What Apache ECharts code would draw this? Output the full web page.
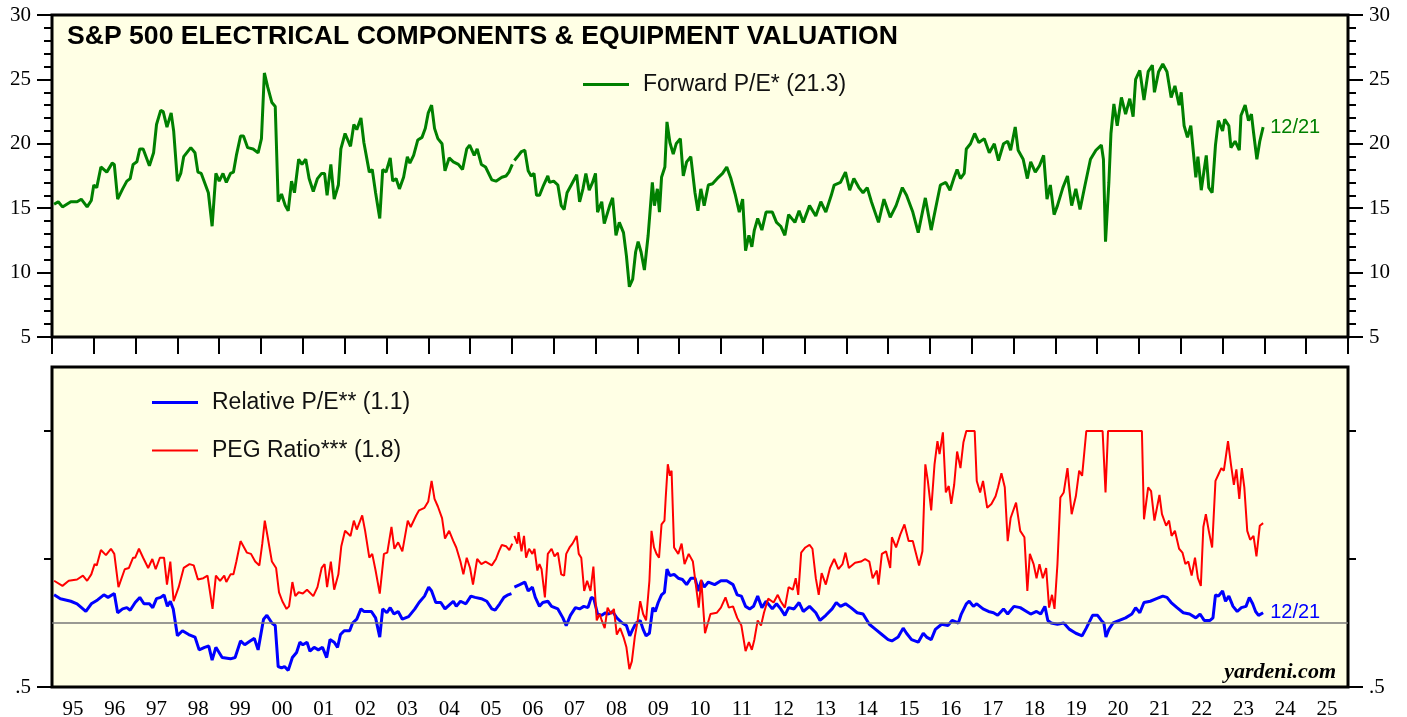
<!DOCTYPE html>
<html>
<head>
<meta charset="utf-8">
<script src="https://cdn.jsdelivr.net/npm/echarts@6/dist/echarts.min.js"></script>
<style>
html, body { margin: 0; padding: 0; background: #fff; }
#chart { width: 1407px; height: 717px; }
</style>
</head>
<body>
<div id="chart"></div>
<script>
// year tick labels (one band per year, 1995..2025)
var yearLabels = ['95', '96', '97', '98', '99', '00', '01', '02', '03', '04', '05', '06', '07', '08', '09', '10',
    '11', '12', '13', '14', '15', '16', '17', '18', '19', '20', '21', '22', '23', '24', '25'];

// forward P/E, [decimal year, value]
var forwardPE = [
    [1995.05, 15.3], [1995.15, 15.5], [1995.25, 15.1], [1995.45, 15.5], [1995.6, 15.5], [1995.7, 15.7], [1995.84, 15.1], [1995.94, 15.6],
    [1996.0, 16.8], [1996.07, 16.6], [1996.17, 18.2], [1996.31, 17.8], [1996.44, 18.5], [1996.49, 18.4], [1996.57, 15.7], [1996.69, 16.5],
    [1996.79, 17.1], [1996.87, 17.3], [1996.94, 18.4], [1997.03, 18.6], [1997.1, 19.6], [1997.18, 19.6], [1997.33, 18.3], [1997.43, 19.3],
    [1997.5, 21.5], [1997.6, 22.6], [1997.66, 22.5], [1997.75, 21.3], [1997.85, 22.4], [1997.91, 21.0], [1998.0, 17.1], [1998.08, 17.7],
    [1998.15, 19.0], [1998.32, 19.7], [1998.42, 19.3], [1998.49, 17.8], [1998.57, 17.7], [1998.74, 16.2], [1998.83, 13.6], [1998.92, 17.7],
    [1999.0, 17.1], [1999.09, 17.7], [1999.17, 17.0], [1999.27, 17.7], [1999.34, 17.8], [1999.41, 19.1], [1999.51, 20.6], [1999.58, 20.6],
    [1999.68, 19.7], [1999.81, 19.6], [1999.93, 19.3], [2000.01, 20.4], [2000.08, 25.5], [2000.16, 24.4], [2000.26, 23.2], [2000.34, 22.9],
    [2000.41, 15.5], [2000.49, 16.1], [2000.58, 15.2], [2000.65, 14.8], [2000.73, 17.1], [2000.8, 16.2], [2000.9, 18.8], [2000.98, 18.4],
    [2001.07, 18.8], [2001.15, 17.3], [2001.25, 16.3], [2001.35, 17.3], [2001.45, 17.7], [2001.52, 17.7], [2001.58, 16.0], [2001.67, 18.4],
    [2001.75, 15.7], [2001.85, 16.8], [2001.91, 19.6], [2002.01, 20.8], [2002.14, 19.8], [2002.22, 21.5], [2002.29, 21.1], [2002.39, 22.0],
    [2002.46, 20.1], [2002.59, 17.8], [2002.66, 18.0], [2002.74, 16.2], [2002.84, 14.2], [2002.91, 18.0], [2002.99, 17.8], [2003.09, 18.9],
    [2003.15, 17.1], [2003.23, 17.3], [2003.31, 16.5], [2003.41, 17.4], [2003.5, 19.0], [2003.56, 18.5], [2003.65, 19.1], [2003.75, 20.3],
    [2003.85, 20.5], [2003.93, 21.2], [2004.0, 22.4], [2004.08, 23.0], [2004.15, 21.2], [2004.23, 20.4], [2004.33, 20.0], [2004.4, 17.9],
    [2004.5, 18.9], [2004.6, 18.6], [2004.72, 18.4], [2004.82, 18.0], [2004.92, 19.6], [2004.99, 19.9], [2005.1, 19.1], [2005.17, 19.6],
    [2005.27, 18.4], [2005.37, 18.2], [2005.52, 17.2], [2005.62, 17.1], [2005.76, 17.4], [2005.86, 17.5], [2005.93, 17.8], [2006.01, 18.4],
    [2006.035, '-'],
    [2006.06, 18.7], [2006.16, 19.1], [2006.23, 19.4], [2006.31, 19.5], [2006.39, 17.9], [2006.46, 17.5], [2006.53, 17.7], [2006.59, 16.0],
    [2006.66, 16.0], [2006.76, 16.8], [2006.86, 17.5], [2006.9, 17.0], [2007.0, 17.1], [2007.1, 16.8], [2007.18, 15.2], [2007.25, 14.9],
    [2007.32, 16.2], [2007.42, 16.8], [2007.55, 17.6], [2007.62, 15.5], [2007.7, 16.5], [2007.77, 17.7], [2007.85, 16.4], [2007.93, 17.0],
    [2008.0, 17.7], [2008.05, 14.7], [2008.15, 15.5], [2008.21, 13.8], [2008.34, 15.2], [2008.41, 15.8], [2008.49, 12.9], [2008.57, 13.9],
    [2008.67, 13.1], [2008.74, 11.3], [2008.81, 8.9], [2008.89, 9.5], [2008.96, 11.6], [2009.02, 12.4], [2009.09, 11.6], [2009.17, 10.2],
    [2009.26, 12.9], [2009.36, 17.0], [2009.41, 15.2], [2009.48, 16.5], [2009.53, 14.7], [2009.58, 17.4], [2009.66, 18.2], [2009.71, 21.7],
    [2009.78, 20.1], [2009.86, 19.2], [2009.93, 20.0], [2010.03, 20.4], [2010.1, 17.5], [2010.18, 18.6], [2010.28, 19.0], [2010.38, 16.2],
    [2010.45, 14.8], [2010.52, 16.5], [2010.6, 15.2], [2010.7, 16.8], [2010.8, 16.9], [2010.94, 17.4], [2011.04, 17.7], [2011.14, 18.2],
    [2011.24, 17.3], [2011.34, 16.1], [2011.44, 14.7], [2011.52, 15.7], [2011.59, 11.7], [2011.67, 12.9], [2011.74, 12.0], [2011.8, 13.3],
    [2011.88, 14.2], [2011.98, 13.3], [2012.08, 14.7], [2012.23, 14.7], [2012.33, 13.9], [2012.43, 13.6], [2012.53, 12.9], [2012.62, 14.5],
    [2012.77, 13.9], [2012.87, 14.8], [2012.97, 13.9], [2013.12, 15.2], [2013.27, 14.4], [2013.39, 15.5], [2013.51, 14.7], [2013.64, 16.0],
    [2013.71, 16.8], [2013.86, 17.0], [2013.98, 17.8], [2014.08, 16.4], [2014.18, 17.3], [2014.3, 16.6], [2014.4, 16.2], [2014.5, 16.6],
    [2014.6, 15.5], [2014.77, 13.9], [2014.9, 15.7], [2015.05, 14.3], [2015.19, 15.2], [2015.34, 16.6], [2015.44, 16.0], [2015.59, 14.7],
    [2015.72, 13.1], [2015.89, 15.8], [2016.03, 13.3], [2016.18, 15.7], [2016.25, 16.8], [2016.38, 17.0], [2016.48, 16.4], [2016.58, 17.4],
    [2016.65, 18.0], [2016.73, 17.3], [2016.82, 17.7], [2016.87, 19.6], [2016.97, 20.0], [2017.07, 20.8], [2017.17, 20.1], [2017.3, 20.4],
    [2017.42, 19.3], [2017.54, 20.0], [2017.64, 18.7], [2017.76, 20.0], [2017.86, 20.2], [2017.93, 19.5], [2018.04, 21.3], [2018.11, 19.5],
    [2018.23, 18.8], [2018.33, 17.3], [2018.41, 18.6], [2018.52, 17.8], [2018.62, 18.3], [2018.72, 19.1], [2018.8, 15.7], [2018.88, 16.8],
    [2018.97, 14.5], [2019.05, 15.2], [2019.18, 16.6], [2019.29, 17.5], [2019.39, 15.2], [2019.49, 16.5], [2019.59, 14.9], [2019.71, 16.8],
    [2019.84, 18.8], [2019.97, 19.5], [2020.1, 19.9], [2020.15, 18.8], [2020.2, 12.4], [2020.28, 17.0], [2020.33, 20.8], [2020.4, 23.1],
    [2020.48, 21.4], [2020.58, 23.6], [2020.68, 22.3], [2020.78, 23.5], [2020.86, 22.1], [2020.92, 25.0], [2021.02, 25.7], [2021.12, 23.4],
    [2021.22, 25.6], [2021.32, 26.1], [2021.37, 24.0], [2021.47, 25.6], [2021.57, 26.2], [2021.67, 25.6], [2021.77, 23.6], [2021.86, 24.5],
    [2021.96, 23.0], [2022.01, 24.0], [2022.08, 21.4], [2022.16, 20.5], [2022.24, 21.4], [2022.36, 17.4], [2022.41, 19.0], [2022.49, 16.4],
    [2022.56, 18.0], [2022.61, 19.1], [2022.67, 16.6], [2022.75, 16.2], [2022.83, 19.9], [2022.9, 21.8], [2023.0, 21.0], [2023.05, 21.9],
    [2023.15, 21.4], [2023.2, 19.7], [2023.3, 20.2], [2023.4, 19.5], [2023.44, 22.2], [2023.54, 23.0], [2023.62, 21.8], [2023.69, 22.3],
    [2023.74, 20.9], [2023.82, 18.8], [2023.89, 20.2], [2023.97, 21.3]
];

// relative P/E (sector forward P/E / S&P 500 forward P/E)
var relativePE = [
    [1995.05, 1.22], [1995.2, 1.19], [1995.45, 1.17], [1995.6, 1.15], [1995.81, 1.09], [1995.94, 1.15], [1996.09, 1.18], [1996.24, 1.22],
    [1996.34, 1.2], [1996.49, 1.23], [1996.57, 1.08], [1996.69, 1.11], [1996.79, 1.12], [1996.87, 1.1], [1996.99, 1.16], [1997.1, 1.2],
    [1997.2, 1.15], [1997.33, 1.15], [1997.41, 1.12], [1997.5, 1.19], [1997.6, 1.2], [1997.68, 1.22], [1997.76, 1.13], [1997.83, 1.17],
    [1997.9, 1.11], [1998.0, 0.9], [1998.12, 0.94], [1998.27, 0.91], [1998.42, 0.89], [1998.52, 0.79], [1998.65, 0.81], [1998.75, 0.82],
    [1998.83, 0.71], [1998.92, 0.81], [1999.07, 0.73], [1999.27, 0.72], [1999.38, 0.73], [1999.51, 0.86], [1999.61, 0.83], [1999.74, 0.86],
    [1999.84, 0.88], [1999.93, 0.79], [2000.06, 1.03], [2000.14, 1.06], [2000.26, 1.0], [2000.34, 0.98], [2000.41, 0.66], [2000.49, 0.65],
    [2000.56, 0.66], [2000.65, 0.63], [2000.75, 0.73], [2000.85, 0.77], [2000.93, 0.85], [2001.0, 0.83], [2001.1, 0.85], [2001.17, 0.78],
    [2001.27, 0.81], [2001.37, 0.79], [2001.47, 0.81], [2001.57, 0.73], [2001.65, 0.87], [2001.75, 0.85], [2001.83, 0.81], [2001.9, 0.91],
    [2001.99, 0.94], [2002.12, 0.94], [2002.19, 1.0], [2002.29, 1.03], [2002.39, 1.11], [2002.46, 1.09], [2002.64, 1.09], [2002.74, 1.04],
    [2002.84, 0.89], [2002.91, 1.11], [2003.01, 1.08], [2003.09, 1.12], [2003.18, 1.07], [2003.28, 1.09], [2003.38, 1.03], [2003.53, 1.05],
    [2003.68, 1.11], [2003.78, 1.16], [2003.91, 1.21], [2004.01, 1.28], [2004.08, 1.25], [2004.18, 1.16], [2004.3, 1.16], [2004.4, 1.11],
    [2004.5, 1.14], [2004.6, 1.17], [2004.67, 1.13], [2004.77, 1.17], [2004.9, 1.15], [2005.02, 1.21], [2005.12, 1.2], [2005.27, 1.19],
    [2005.4, 1.17], [2005.52, 1.11], [2005.6, 1.1], [2005.71, 1.15], [2005.81, 1.2], [2005.91, 1.22], [2005.99, 1.23],
    [2006.035, '-'],
    [2006.06, 1.28], [2006.19, 1.3], [2006.31, 1.32], [2006.39, 1.25], [2006.49, 1.28], [2006.56, 1.2], [2006.66, 1.13], [2006.74, 1.16],
    [2006.86, 1.17], [2006.95, 1.13], [2007.1, 1.11], [2007.22, 1.04], [2007.3, 0.98], [2007.4, 1.06], [2007.52, 1.12], [2007.62, 1.11],
    [2007.72, 1.13], [2007.82, 1.12], [2007.9, 1.2], [2007.96, 1.19], [2008.05, 1.07], [2008.15, 1.06], [2008.24, 1.08], [2008.31, 1.07],
    [2008.41, 1.09], [2008.51, 1.04], [2008.64, 1.0], [2008.74, 0.98], [2008.82, 0.9], [2008.89, 0.95], [2008.97, 1.0], [2009.07, 1.02],
    [2009.14, 0.95], [2009.21, 0.9], [2009.29, 0.92], [2009.37, 1.12], [2009.43, 1.09], [2009.5, 1.16], [2009.58, 1.22], [2009.65, 1.24],
    [2009.71, 1.42], [2009.78, 1.37], [2009.88, 1.38], [2009.98, 1.35], [2010.08, 1.34], [2010.18, 1.3], [2010.28, 1.35], [2010.38, 1.35],
    [2010.46, 1.25], [2010.53, 1.33], [2010.6, 1.28], [2010.7, 1.32], [2010.85, 1.3], [2011.0, 1.33], [2011.14, 1.33], [2011.29, 1.3],
    [2011.39, 1.22], [2011.49, 1.21], [2011.59, 1.13], [2011.69, 1.11], [2011.78, 1.13], [2011.88, 1.21], [2011.98, 1.12], [2012.08, 1.17],
    [2012.23, 1.11], [2012.33, 1.15], [2012.43, 1.11], [2012.53, 1.06], [2012.62, 1.12], [2012.75, 1.11], [2012.87, 1.16], [2012.97, 1.09],
    [2013.12, 1.13], [2013.27, 1.08], [2013.37, 1.02], [2013.51, 1.06], [2013.66, 1.11], [2013.76, 1.16], [2013.86, 1.13], [2013.98, 1.15],
    [2014.11, 1.12], [2014.26, 1.08], [2014.4, 1.07], [2014.55, 0.99], [2014.7, 0.95], [2014.85, 0.91], [2015.0, 0.87], [2015.09, 0.86],
    [2015.24, 0.89], [2015.36, 0.96], [2015.44, 0.92], [2015.56, 0.87], [2015.72, 0.85], [2015.84, 0.92], [2015.92, 0.89], [2016.03, 0.87],
    [2016.13, 0.95], [2016.28, 0.99], [2016.43, 0.98], [2016.53, 1.02], [2016.68, 1.0], [2016.75, 1.07], [2016.87, 1.15], [2016.94, 1.17],
    [2017.04, 1.13], [2017.12, 1.15], [2017.27, 1.11], [2017.4, 1.09], [2017.52, 1.08], [2017.62, 1.06], [2017.76, 1.11], [2017.86, 1.07],
    [2018.01, 1.13], [2018.16, 1.12], [2018.31, 1.09], [2018.41, 1.07], [2018.55, 1.09], [2018.65, 1.07], [2018.75, 1.13], [2018.82, 1.02],
    [2018.9, 1.0], [2019.05, 0.99], [2019.2, 1.0], [2019.34, 0.95], [2019.49, 0.92], [2019.64, 0.9], [2019.74, 0.96], [2019.89, 1.06],
    [2020.01, 1.06], [2020.1, 1.02], [2020.16, 1.0], [2020.21, 0.89], [2020.28, 0.95], [2020.38, 1.0], [2020.53, 1.02], [2020.68, 1.04],
    [2020.83, 1.07], [2020.92, 1.12], [2021.02, 1.08], [2021.12, 1.16], [2021.27, 1.17], [2021.42, 1.19], [2021.57, 1.21], [2021.67, 1.2],
    [2021.77, 1.16], [2021.91, 1.12], [2022.06, 1.08], [2022.21, 1.07], [2022.36, 1.04], [2022.46, 1.07], [2022.56, 1.02], [2022.7, 1.02],
    [2022.77, 1.04], [2022.83, 1.22], [2022.9, 1.21], [2023.0, 1.25], [2023.07, 1.17], [2023.15, 1.21], [2023.25, 1.13], [2023.35, 1.09],
    [2023.45, 1.12], [2023.56, 1.13], [2023.64, 1.2], [2023.72, 1.15], [2023.79, 1.09], [2023.86, 1.06], [2023.97, 1.08]
];

// PEG ratio (capped at 2.5 on the chart)
var pegRatio = [
    [1995.05, 1.33], [1995.25, 1.29], [1995.4, 1.33], [1995.6, 1.34], [1995.74, 1.37], [1995.84, 1.33], [1995.94, 1.38], [1996.02, 1.46],
    [1996.07, 1.45], [1996.17, 1.57], [1996.29, 1.53], [1996.41, 1.58], [1996.49, 1.54], [1996.59, 1.28], [1996.74, 1.42], [1996.84, 1.43],
    [1996.94, 1.51], [1996.99, 1.51], [1997.08, 1.58], [1997.18, 1.51], [1997.3, 1.43], [1997.4, 1.5], [1997.48, 1.42], [1997.58, 1.51],
    [1997.68, 1.51], [1997.75, 1.3], [1997.83, 1.48], [1997.91, 1.17], [1998.03, 1.28], [1998.15, 1.43], [1998.29, 1.46], [1998.39, 1.45],
    [1998.49, 1.34], [1998.62, 1.35], [1998.72, 1.37], [1998.84, 1.11], [1998.92, 1.37], [1999.02, 1.33], [1999.12, 1.37], [1999.17, 1.32],
    [1999.27, 1.38], [1999.34, 1.38], [1999.41, 1.48], [1999.51, 1.64], [1999.66, 1.55], [1999.76, 1.54], [1999.86, 1.48], [1999.96, 1.45],
    [2000.03, 1.62], [2000.09, 1.8], [2000.16, 1.67], [2000.26, 1.48], [2000.36, 1.43], [2000.43, 1.24], [2000.51, 1.17], [2000.61, 1.11],
    [2000.67, 1.13], [2000.75, 1.32], [2000.82, 1.21], [2000.9, 1.24], [2001.0, 1.23], [2001.1, 1.26], [2001.25, 1.21], [2001.35, 1.28],
    [2001.45, 1.43], [2001.52, 1.46], [2001.58, 1.28], [2001.67, 1.48], [2001.75, 1.26], [2001.85, 1.38], [2001.92, 1.6], [2002.01, 1.72],
    [2002.14, 1.68], [2002.22, 1.8], [2002.29, 1.73], [2002.42, 1.84], [2002.49, 1.72], [2002.59, 1.51], [2002.66, 1.54], [2002.74, 1.41],
    [2002.84, 1.23], [2002.94, 1.54], [2003.02, 1.55], [2003.12, 1.75], [2003.19, 1.58], [2003.28, 1.63], [2003.38, 1.56], [2003.51, 1.8],
    [2003.58, 1.75], [2003.71, 1.84], [2003.78, 1.88], [2003.91, 1.9], [2004.0, 1.95], [2004.08, 2.11], [2004.15, 1.97], [2004.23, 1.91],
    [2004.33, 1.82], [2004.4, 1.66], [2004.5, 1.72], [2004.6, 1.64], [2004.67, 1.59], [2004.77, 1.48], [2004.84, 1.38], [2004.92, 1.51],
    [2005.0, 1.43], [2005.07, 1.3], [2005.17, 1.5], [2005.27, 1.46], [2005.37, 1.48], [2005.52, 1.45], [2005.62, 1.5], [2005.69, 1.56],
    [2005.76, 1.61], [2005.86, 1.6], [2005.94, 1.57], [2006.01, 1.62],
    [2006.035, '-'],
    [2006.06, 1.68], [2006.13, 1.62], [2006.16, 1.71], [2006.23, 1.56], [2006.29, 1.68], [2006.34, 1.51], [2006.41, 1.58], [2006.49, 1.54],
    [2006.54, 1.58], [2006.61, 1.41], [2006.66, 1.46], [2006.71, 1.42], [2006.79, 1.2], [2006.86, 1.54], [2006.95, 1.58], [2007.02, 1.52],
    [2007.1, 1.55], [2007.18, 1.38], [2007.25, 1.37], [2007.3, 1.54], [2007.38, 1.59], [2007.45, 1.62], [2007.55, 1.68], [2007.6, 1.54],
    [2007.66, 1.51], [2007.73, 1.25], [2007.8, 1.33], [2007.88, 1.25], [2007.95, 1.44], [2008.03, 1.02], [2008.1, 1.07], [2008.15, 1.02],
    [2008.22, 0.96], [2008.29, 1.12], [2008.37, 1.07], [2008.44, 1.11], [2008.51, 0.91], [2008.59, 0.96], [2008.67, 0.89], [2008.74, 0.81],
    [2008.81, 0.64], [2008.87, 0.7], [2008.94, 0.89], [2009.01, 1.02], [2009.07, 1.17], [2009.14, 1.07], [2009.21, 1.02], [2009.29, 1.33],
    [2009.34, 1.72], [2009.4, 1.59], [2009.46, 1.54], [2009.52, 1.51], [2009.58, 1.77], [2009.65, 1.8], [2009.68, 1.98], [2009.73, 2.24],
    [2009.78, 2.15], [2009.82, 2.19], [2009.88, 1.59], [2009.98, 1.54], [2010.06, 1.62], [2010.13, 1.46], [2010.23, 1.54], [2010.33, 1.48],
    [2010.4, 1.3], [2010.47, 1.12], [2010.53, 1.34], [2010.62, 0.92], [2010.75, 1.07], [2010.9, 1.08], [2011.0, 1.12], [2011.11, 1.2],
    [2011.19, 1.12], [2011.29, 1.13], [2011.39, 1.04], [2011.49, 0.98], [2011.59, 0.78], [2011.67, 0.85], [2011.74, 0.79], [2011.8, 0.87],
    [2011.88, 1.02], [2011.96, 0.98], [2012.03, 1.08], [2012.13, 1.19], [2012.26, 1.16], [2012.36, 1.22], [2012.43, 1.17], [2012.53, 1.12],
    [2012.62, 1.28], [2012.72, 1.26], [2012.79, 1.35], [2012.85, 1.22], [2012.92, 1.55], [2013.02, 1.59], [2013.12, 1.61], [2013.19, 1.58],
    [2013.27, 1.35], [2013.34, 1.22], [2013.41, 1.39], [2013.51, 1.3], [2013.61, 1.43], [2013.71, 1.5], [2013.81, 1.42], [2013.91, 1.46],
    [2013.98, 1.55], [2014.06, 1.43], [2014.21, 1.47], [2014.35, 1.48], [2014.45, 1.5], [2014.55, 1.48], [2014.63, 1.35], [2014.73, 1.41],
    [2014.77, 1.3], [2014.85, 1.54], [2014.95, 1.56], [2015.05, 1.43], [2015.09, 1.67], [2015.19, 1.59], [2015.29, 1.69], [2015.39, 1.77],
    [2015.49, 1.64], [2015.59, 1.64], [2015.66, 1.55], [2015.74, 1.45], [2015.82, 1.56], [2015.89, 2.24], [2015.95, 2.11], [2016.03, 1.88],
    [2016.11, 2.24], [2016.18, 2.42], [2016.23, 2.32], [2016.31, 2.49], [2016.38, 2.02], [2016.45, 2.07], [2016.51, 1.93], [2016.58, 2.08],
    [2016.65, 2.34], [2016.73, 2.21], [2016.8, 2.41], [2016.87, 2.5], [2017.07, 2.5], [2017.12, 2.11], [2017.2, 2.02], [2017.27, 2.11],
    [2017.37, 1.9], [2017.47, 1.93], [2017.57, 1.99], [2017.63, 2.06], [2017.71, 2.17], [2017.79, 2.06], [2017.86, 1.64], [2017.93, 1.82],
    [2018.06, 1.94], [2018.16, 1.72], [2018.26, 1.67], [2018.33, 1.25], [2018.39, 1.54], [2018.48, 1.46], [2018.55, 1.35], [2018.62, 1.46],
    [2018.7, 1.35], [2018.78, 1.43], [2018.85, 1.12], [2018.92, 1.22], [2018.98, 1.11], [2019.05, 1.46], [2019.12, 1.98], [2019.2, 2.02],
    [2019.29, 2.21], [2019.39, 1.85], [2019.49, 1.99], [2019.57, 2.19], [2019.64, 2.15], [2019.74, 2.5], [2020.13, 2.5], [2020.2, 2.02],
    [2020.26, 2.5], [2021.07, 2.5], [2021.12, 1.81], [2021.22, 2.06], [2021.29, 2.03], [2021.37, 1.8], [2021.49, 2.0], [2021.55, 1.85],
    [2021.65, 1.76], [2021.72, 1.8], [2021.78, 1.68], [2021.86, 1.72], [2021.96, 1.58], [2022.04, 1.55], [2022.11, 1.46], [2022.18, 1.48],
    [2022.26, 1.37], [2022.34, 1.51], [2022.41, 1.35], [2022.48, 1.29], [2022.54, 1.75], [2022.6, 1.85], [2022.67, 1.72], [2022.75, 1.59],
    [2022.83, 2.11], [2022.9, 2.16], [2022.97, 2.21], [2023.03, 2.19], [2023.07, 2.28], [2023.13, 2.42], [2023.2, 2.24], [2023.27, 2.08],
    [2023.33, 2.2], [2023.4, 1.97], [2023.46, 2.21], [2023.52, 2.06], [2023.59, 1.72], [2023.66, 1.65], [2023.74, 1.68], [2023.81, 1.52],
    [2023.89, 1.76], [2023.97, 1.78]
];

var SANS = '"Liberation Sans", Arial, sans-serif';
var SERIF = '"Liberation Serif", "Times New Roman", serif';
var tickStyle = {color: '#000', width: 2};
var labelStyle = {fontFamily: SERIF, fontSize: 21, color: '#000'};

function legendOf(name, left, top, h) {
    return {
        data: [name],
        left: left,
        top: top,
        padding: 0,
        icon: 'rect',
        itemWidth: 46,
        itemHeight: h,
        selectedMode: false,
        textStyle: {fontFamily: SANS, fontSize: 23, color: '#111', padding: [0, 0, 0, 9]}
    };
}

function yAxisOf(grid, pos, extra) {
    var ax = {
        type: 'value',
        gridIndex: grid,
        position: pos,
        axisLine: {show: false},
        splitLine: {show: false},
        axisTick: {show: true, length: 15, lineStyle: tickStyle},
        axisLabel: Object.assign({margin: 21}, labelStyle)
    };
    return Object.assign(ax, extra);
}

var chart = echarts.init(document.getElementById('chart'));

var option = {
    animation: false,
    backgroundColor: '#fff',
    title: {
        text: 'S&P 500 ELECTRICAL COMPONENTS & EQUIPMENT VALUATION',
        left: 67,
        top: 23,
        padding: 0,
        textStyle: {fontFamily: SANS, fontSize: 26.6, fontWeight: 'bold', color: '#000'}
    },
    legend: [
        legendOf('Forward P/E* (21.3)', 583, 73, 3),
        legendOf('Relative P/E** (1.1)', 152, 391, 3),
        legendOf('PEG Ratio*** (1.8)', 152, 439, 2)
    ],
    grid: [
        {left: 52, right: 59, top: 15, height: 322, outerBoundsMode: 'none', show: true, backgroundColor: '#ffffe5', borderColor: '#000', borderWidth: 3},
        {left: 52, right: 59, top: 367, height: 320, outerBoundsMode: 'none', show: true, backgroundColor: '#ffffe5', borderColor: '#000', borderWidth: 3}
    ],
    xAxis: [
        {
            // top panel: yearly ticks hanging below the frame, no labels
            type: 'value', gridIndex: 0, position: 'bottom', min: 1995, max: 2026, interval: 1,
            axisLine: {show: false, onZero: false},
            axisTick: {show: true, length: 17, lineStyle: tickStyle},
            axisLabel: {show: false},
            splitLine: {show: false}
        },
        {type: 'value', gridIndex: 1, position: 'top', min: 1995, max: 2026, show: false},
        {
            type: 'category', gridIndex: 1, position: 'bottom', data: yearLabels, boundaryGap: true,
            axisLine: {show: false, onZero: false},
            axisTick: {length: 17, interval: 0, lineStyle: tickStyle},
            axisLabel: Object.assign({margin: 12, interval: 0}, labelStyle)
        }
    ],
    yAxis: [
        yAxisOf(0, 'left', {min: 5, max: 30, interval: 5, minorTick: {show: true, splitNumber: 5, length: 8, lineStyle: tickStyle}}),
        yAxisOf(0, 'right', {min: 5, max: 30, interval: 5, minorTick: {show: true, splitNumber: 5, length: 8, lineStyle: tickStyle}}),
        yAxisOf(1, 'left', {
            min: 0.5, max: 3,
            axisTick: {show: true, length: 8, customValues: [1.5, 2.5], lineStyle: tickStyle},
            axisLabel: Object.assign({margin: 21, customValues: [0.5], formatter: function () { return '.5'; }}, labelStyle)
        }),
        yAxisOf(1, 'right', {
            min: 0.5, max: 3,
            axisTick: {show: true, length: 8, customValues: [1.5, 2.5], lineStyle: tickStyle},
            axisLabel: Object.assign({margin: 21, customValues: [0.5], formatter: function () { return '.5'; }}, labelStyle)
        }),
        yAxisOf(1, 'left', {
            min: 0.5, max: 3,
            axisTick: {show: true, length: 15, customValues: [0.5], lineStyle: tickStyle},
            axisLabel: {show: false}
        }),
        yAxisOf(1, 'right', {
            min: 0.5, max: 3,
            axisTick: {show: true, length: 15, customValues: [0.5], lineStyle: tickStyle},
            axisLabel: {show: false}
        })
    ],
    graphic: [{
        type: 'text',
        right: 71,
        top: 661,
        style: {text: 'yardeni.com', font: 'italic bold 22px "Liberation Serif"', fill: '#000'}
    }],
    series: [{
        name: 'Forward P/E* (21.3)',
        type: 'line',
        xAxisIndex: 0,
        yAxisIndex: 0,
        data: forwardPE,
        symbol: 'none',
        lineStyle: {color: '#008000', width: 3},
        itemStyle: {color: '#008000'},
        endLabel: {show: true, formatter: '12/21', color: '#008000', fontFamily: SANS, fontSize: 20, distance: 7}
    }, {
        name: 'Relative P/E** (1.1)',
        type: 'line',
        xAxisIndex: 1,
        yAxisIndex: 2,
        data: relativePE,
        symbol: 'none',
        lineStyle: {color: '#0000ff', width: 3},
        itemStyle: {color: '#0000ff'},
        endLabel: {show: true, formatter: '12/21', color: '#0000ff', fontFamily: SANS, fontSize: 20, distance: 7},
        markLine: {
            silent: true,
            symbol: 'none',
            label: {show: false},
            lineStyle: {color: '#777', width: 1.5, type: 'solid'},
            data: [{yAxis: 1}]
        }
    }, {
        name: 'PEG Ratio*** (1.8)',
        type: 'line',
        xAxisIndex: 1,
        yAxisIndex: 2,
        data: pegRatio,
        symbol: 'none',
        lineStyle: {color: '#ff0000', width: 2},
        itemStyle: {color: '#ff0000'}
    }]
};

chart.setOption(option);
</script>
</body>
</html>
